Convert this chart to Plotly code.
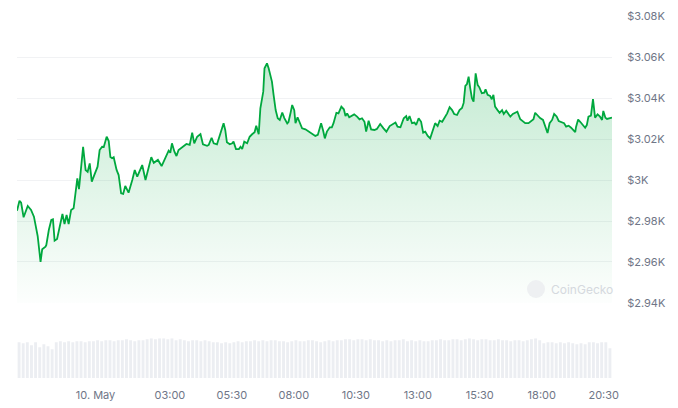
import datetime as dt
import plotly.graph_objects as go

# ---- data ----
start_time = dt.datetime(2024, 5, 9, 20, 50)

price_minutes = [
    0, 6, 10, 16, 26, 34, 41, 50, 57, 61, 69, 71, 77, 83, 87, 91, 97, 104, 110, 115,
    120, 125, 131, 137, 146, 150, 160, 166, 171, 176, 181, 187, 195, 200, 206, 210, 217, 222, 226, 230,
    234, 241, 246, 252, 257, 262, 270, 279, 285, 291, 297, 303, 311, 319, 325, 331, 341, 350, 359, 367,
    371, 375, 381, 386, 391, 400, 410, 418, 424, 429, 436, 444, 450, 460, 464, 471, 476, 484, 492, 500,
    504, 508, 515, 521, 524, 530, 537, 541, 545, 550, 557, 563, 569, 575, 579, 585, 589, 596, 599, 605,
    609, 613, 617, 621, 626, 631, 636, 642, 647, 654, 657, 662, 666, 671, 674, 679, 684, 690, 698, 706,
    714, 722, 728, 736, 741, 745, 750, 757, 762, 766, 773, 778, 785, 791, 795, 799, 804, 811, 816, 823,
    829, 835, 841, 845, 851, 857, 865, 871, 879, 887, 894, 902, 910, 916, 921, 928, 936, 942, 945, 950,
    956, 962, 966, 972, 978, 983, 988, 994, 1000, 1007, 1012, 1018, 1023, 1029, 1034, 1041, 1047, 1053, 1058, 1065,
    1071, 1077, 1081, 1085, 1089, 1093, 1097, 1101, 1105, 1110, 1115, 1119, 1125, 1131, 1134, 1139, 1145, 1149, 1153, 1157,
    1163, 1168, 1174, 1178, 1184, 1190, 1194, 1200, 1206, 1211, 1218, 1224, 1230, 1238, 1244, 1250, 1254, 1260, 1266, 1273,
    1278, 1284, 1289, 1295, 1300, 1306, 1311, 1319, 1324, 1329, 1335, 1341, 1345, 1351, 1353, 1358, 1363, 1370, 1375, 1379,
    1383, 1389, 1394, 1399, 1405, 1411, 1416, 1419, 1424, 1428, 1436, 1440,
]

prices = [
    2985.0, 2989.9, 2988.9, 2981.8, 2987.3, 2985.4, 2982.1, 2972.7, 2960.1, 2966.2,
    2967.5, 2968.3, 2975.6, 2980.5, 2980.8, 2970.4, 2971.2, 2977.2, 2983.4, 2978.5,
    2982.9, 2978.5, 2985.4, 2986.2, 3000.8, 2995.5, 3016.2, 3004.9, 3004.0, 3008.1,
    2999.2, 3002.4, 3006.5, 3014.6, 3016.2, 3016.1, 3021.1, 3019.0, 3011.2, 3010.6,
    3011.1, 3004.9, 3002.4, 2993.5, 2993.2, 2997.1, 2993.8, 3000.0, 3004.9, 3001.6,
    3004.9, 3007.3, 3000.0, 3006.5, 3011.1, 3008.4, 3009.8, 3006.8, 3010.6, 3014.3,
    3013.3, 3017.9, 3013.8, 3011.7, 3014.6, 3016.0, 3017.6, 3017.1, 3023.1, 3017.9,
    3021.1, 3022.4, 3017.4, 3016.7, 3017.1, 3020.6, 3017.9, 3017.4, 3022.0, 3027.7,
    3024.4, 3018.4, 3017.4, 3017.9, 3018.7, 3015.1, 3015.1, 3016.2, 3015.1, 3018.7,
    3017.9, 3021.1, 3022.3, 3023.3, 3026.5, 3022.3, 3035.0, 3043.1, 3054.5, 3056.9,
    3054.5, 3050.4, 3048.0, 3041.5, 3034.1, 3030.1, 3029.3, 3032.9, 3030.2, 3027.6,
    3028.3, 3032.7, 3036.6, 3034.1, 3027.7, 3030.6, 3028.4, 3025.2, 3024.7, 3023.6,
    3022.3, 3021.5, 3022.0, 3027.7, 3024.0, 3020.3, 3023.6, 3025.7, 3025.7, 3027.7,
    3032.8, 3032.5, 3035.8, 3034.5, 3031.2, 3032.5, 3030.6, 3031.2, 3032.0, 3030.9,
    3029.6, 3030.1, 3028.4, 3023.6, 3028.9, 3024.7, 3024.4, 3024.9, 3027.3, 3025.2,
    3023.6, 3026.3, 3027.2, 3028.0, 3026.0, 3025.7, 3030.1, 3031.2, 3028.9, 3031.2,
    3027.7, 3028.0, 3026.8, 3030.1, 3028.4, 3023.1, 3023.6, 3021.5, 3020.3, 3024.7,
    3027.7, 3026.3, 3028.9, 3028.4, 3030.1, 3032.5, 3035.5, 3034.1, 3032.2, 3031.7,
    3034.1, 3035.1, 3037.6, 3045.9, 3046.8, 3050.4, 3044.7, 3039.9, 3038.2, 3052.0,
    3046.3, 3045.2, 3042.3, 3042.6, 3044.2, 3041.5, 3041.0, 3039.4, 3041.5, 3035.8,
    3034.1, 3032.8, 3034.1, 3032.2, 3033.8, 3032.2, 3030.9, 3032.2, 3032.8, 3033.3,
    3029.6, 3028.4, 3027.7, 3027.7, 3028.9, 3029.6, 3032.8, 3031.2, 3030.2, 3029.3,
    3026.0, 3022.9, 3027.7, 3029.3, 3032.2, 3031.0, 3028.8, 3028.1, 3027.7, 3026.0,
    3026.5, 3025.5, 3024.4, 3023.3, 3025.9, 3029.5, 3028.4, 3026.5, 3025.5, 3026.8,
    3030.9, 3031.4, 3039.5, 3030.4, 3032.0, 3030.9, 3029.3, 3033.7, 3030.4, 3029.8,
    3030.1, 3030.4,
]

# trading volume per 10-minute slot (relative units)
volumes = [
    36, 35, 36, 33, 36, 31, 34, 32, 29,
    36, 37, 36, 37, 36, 37, 37, 36, 37, 37,
    38, 37, 38, 38, 37, 38, 38, 39, 38, 37, 38, 38,
    39, 40, 39, 40, 40, 39, 40, 38, 39, 38,
    37, 38, 38, 37, 38, 37, 36, 36, 35, 36, 35, 36, 37, 36, 37,
    37, 38, 37, 38, 37, 38, 38, 37, 37, 36, 37, 38, 37, 37, 38, 38, 37, 36, 37, 38, 37, 38, 38,
    39, 39, 38, 39, 39, 38, 39, 38, 38, 37, 38, 37, 38, 38, 39, 37, 38, 37, 38, 37, 37, 38, 38, 39, 38,
    38, 39, 39, 38, 39, 40, 39, 38, 39, 39, 38, 38, 39, 38, 38, 37, 38, 38, 37, 38, 39, 40, 38,
    35, 36, 36, 35, 36, 35, 36, 35, 34, 35, 34, 36, 36, 35, 36, 36, 30,
]
volume_step_min = 10

price_ticks = [2940, 2960, 2980, 3000, 3020, 3040, 3060, 3080]
price_tick_labels = ["$2.94K", "$2.96K", "$2.98K", "$3K", "$3.02K", "$3.04K", "$3.06K", "$3.08K"]

time_ticks = ["2024-05-10 00:00", "2024-05-10 03:00", "2024-05-10 05:30", "2024-05-10 08:00",
              "2024-05-10 10:30", "2024-05-10 13:00", "2024-05-10 15:30", "2024-05-10 18:00",
              "2024-05-10 20:30"]
time_tick_labels = ["10. May", "03:00", "05:30", "08:00", "10:30", "13:00", "15:30", "18:00", "20:30"]

# ---- build ----
price_times = [start_time + dt.timedelta(minutes=m) for m in price_minutes]
vol_times = [start_time + dt.timedelta(minutes=volume_step_min * i + volume_step_min / 2)
             for i in range(len(volumes))]
end_time = start_time + dt.timedelta(minutes=1440)

GREEN = "#00a83e"
FONT = "Inter, Roboto, sans-serif"
TICK_COLOR = "#6f7687"

fig = go.Figure()

fig.add_trace(go.Bar(
    x=vol_times, y=volumes, xaxis="x", yaxis="y2",
    marker=dict(color="#eceef2", line=dict(width=0)),
    hoverinfo="skip", showlegend=False,
))

fig.add_trace(go.Scatter(
    x=price_times, y=prices, xaxis="x", yaxis="y",
    mode="lines", line=dict(color=GREEN, width=1.8),
    fill="tozeroy",
    fillgradient=dict(type="vertical",
                      colorscale=[[0, "rgba(0,168,62,0.0)"], [1, "rgba(0,168,62,0.24)"]],
                      start=2935, stop=3060),
    showlegend=False,
))

fig.update_layout(
    width=678, height=408,
    margin=dict(l=17, r=66, t=16, b=30),
    paper_bgcolor="white", plot_bgcolor="white",
    font=dict(family=FONT, size=11, color=TICK_COLOR),
    bargap=0.3,
    xaxis=dict(
        type="date", range=[start_time, end_time],
        tickvals=time_ticks, ticktext=time_tick_labels,
        showgrid=False, zeroline=False, showline=False,
        ticks="outside", ticklen=7, tickcolor="rgba(0,0,0,0)",
        tickfont=dict(size=11, color=TICK_COLOR),
        anchor="y2", automargin=False,
    ),
    yaxis=dict(
        domain=[0.2072, 1.0], range=[2940, 3080], side="right",
        tickvals=price_ticks, ticktext=price_tick_labels,
        showgrid=True, gridcolor="#f1f2f4", gridwidth=1,
        zeroline=False, showline=False,
        ticks="outside", ticklen=12, tickcolor="rgba(0,0,0,0)",
        tickfont=dict(size=11, color=TICK_COLOR),
        automargin=False,
    ),
    yaxis2=dict(
        domain=[0.0, 0.11], range=[0, 40],
        showgrid=False, zeroline=False, showline=False, showticklabels=False,
        automargin=False,
    ),
    hovermode=False,
)

# CoinGecko watermark
fig.add_shape(type="circle", xref="paper", yref="paper",
              x0=(527 - 17) / 595, x1=(545 - 17) / 595,
              y0=(378 - 298) / 362, y1=(378 - 280) / 362,
              fillcolor="#eef0f2", line=dict(width=0), layer="above")
fig.add_annotation(text="CoinGecko", xref="paper", yref="paper",
                   x=(549 - 17) / 595, y=(378 - 289) / 362, xanchor="left", yanchor="middle",
                   showarrow=False, font=dict(family=FONT, size=12, color="#d5d9de"))

fig.write_html("out.html", config={"displayModeBar": False})

# remove the browser's default page margin so the chart sits at (0, 0)
with open("out.html", "r", encoding="utf-8") as fh:
    html = fh.read()
html = html.replace("<head>", "<head><style>html,body{margin:0;padding:0;overflow:hidden;}</style>", 1)
with open("out.html", "w", encoding="utf-8") as fh:
    fh.write(html)
